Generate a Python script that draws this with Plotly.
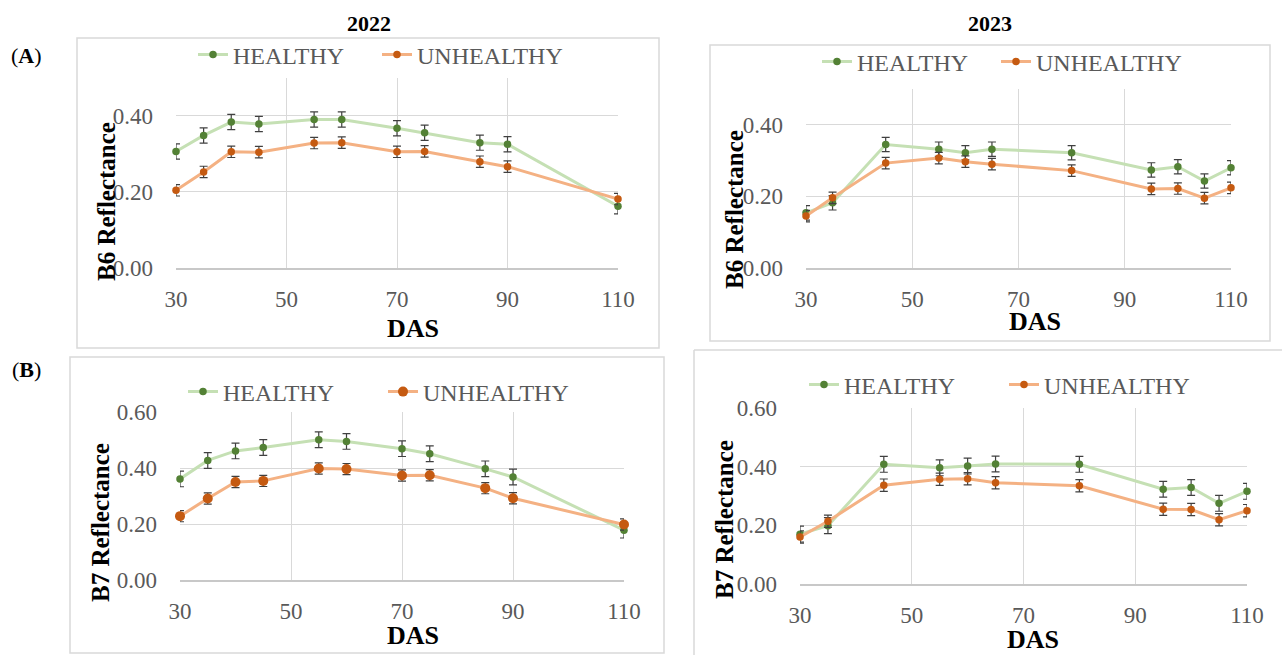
import plotly.graph_objects as go

# ---------------- data ----------------
das_2022 = [30, 35, 40, 45, 55, 60, 70, 75, 85, 90, 110]
das_2023 = [30, 35, 45, 55, 60, 65, 80, 95, 100, 105, 110]

b6_2022_healthy = [0.306, 0.348, 0.383, 0.378, 0.390, 0.390, 0.367, 0.355, 0.329, 0.325, 0.162]
b6_2022_unhealthy = [0.204, 0.252, 0.305, 0.304, 0.328, 0.329, 0.305, 0.306, 0.279, 0.266, 0.181]
b6_2022_healthy_err = [0.02, 0.02, 0.02, 0.02, 0.02, 0.02, 0.02, 0.02, 0.02, 0.02, 0.02]
b6_2022_unhealthy_err = [0.015, 0.015, 0.015, 0.015, 0.015, 0.015, 0.015, 0.015, 0.015, 0.015, 0.015]

b6_2023_healthy = [0.154, 0.182, 0.345, 0.332, 0.322, 0.332, 0.322, 0.274, 0.283, 0.243, 0.280]
b6_2023_unhealthy = [0.145, 0.196, 0.293, 0.307, 0.297, 0.290, 0.272, 0.221, 0.222, 0.195, 0.224]
b6_2023_healthy_err = [0.02, 0.02, 0.02, 0.02, 0.02, 0.02, 0.02, 0.02, 0.02, 0.02, 0.02]
b6_2023_unhealthy_err = [0.016, 0.016, 0.016, 0.016, 0.016, 0.016, 0.016, 0.016, 0.016, 0.016, 0.016]

b7_2022_healthy = [0.361, 0.427, 0.461, 0.473, 0.501, 0.495, 0.469, 0.451, 0.397, 0.368, 0.178]
b7_2022_unhealthy = [0.228, 0.291, 0.350, 0.354, 0.398, 0.396, 0.373, 0.374, 0.328, 0.292, 0.198]
b7_2022_healthy_err = [0.028, 0.028, 0.028, 0.028, 0.028, 0.028, 0.028, 0.028, 0.028, 0.028, 0.028]
b7_2022_unhealthy_err = [0.02, 0.02, 0.02, 0.02, 0.02, 0.02, 0.02, 0.02, 0.02, 0.02, 0.02]

b7_2023_healthy = [0.170, 0.199, 0.408, 0.396, 0.402, 0.409, 0.408, 0.323, 0.329, 0.275, 0.316]
b7_2023_unhealthy = [0.160, 0.214, 0.337, 0.357, 0.359, 0.345, 0.335, 0.255, 0.254, 0.219, 0.250]
b7_2023_healthy_err = [0.027, 0.027, 0.027, 0.027, 0.027, 0.027, 0.027, 0.027, 0.027, 0.027, 0.027]
b7_2023_unhealthy_err = [0.021, 0.021, 0.021, 0.021, 0.021, 0.021, 0.021, 0.021, 0.021, 0.021, 0.021]

x_ticks = [30, 50, 70, 90, 110]
series_names = ["HEALTHY", "UNHEALTHY"]
year_titles = ["2022", "2023"]
row_labels = ["A", "B"]
y_titles = ["B6 Reflectance", "B7 Reflectance"]
x_title = "DAS"

# ---------------- style ----------------
W, H = 1282, 655
FONT = "Liberation Serif"
GRID = "#D9D9D9"
TICKC = "#595959"
H_LINE, H_MARK = "#C5E0B4", "#538135"
U_LINE, U_MARK = "#F4B183", "#C55A11"
ERRC = "#404040"


def fx(p):
    return p / W


def fy(p):
    return 1 - p / H


fig = go.Figure()

# legend text start positions (px) for HEALTHY / UNHEALTHY in each panel, legend centre y
panels = [
    dict(ax="", xd=(176, 618), yd=(77.5, 268), ymax=0.5, x=das_2022,
         h=b6_2022_healthy, u=b6_2022_unhealthy, he=b6_2022_healthy_err, ue=b6_2022_unhealthy_err,
         lt=(236, 420), ly=55, umark=7.5, ytitle=y_titles[0], yt=(106, 202), xt=(413, 328)),
    dict(ax="2", xd=(806, 1231), yd=(89, 268), ymax=0.5, x=das_2023,
         h=b6_2023_healthy, u=b6_2023_unhealthy, he=b6_2023_healthy_err, ue=b6_2023_unhealthy_err,
         lt=(860, 1039), ly=62, umark=7.5, ytitle=y_titles[0], yt=(734, 210), xt=(1035, 321)),
    dict(ax="3", xd=(180, 624), yd=(412, 580), ymax=0.6, x=das_2022,
         h=b7_2022_healthy, u=b7_2022_unhealthy, he=b7_2022_healthy_err, ue=b7_2022_unhealthy_err,
         lt=(226, 426), ly=392, umark=10, ytitle=y_titles[1], yt=(100, 523), xt=(413, 635)),
    dict(ax="4", xd=(800, 1247), yd=(408, 584), ymax=0.6, x=das_2023,
         h=b7_2023_healthy, u=b7_2023_unhealthy, he=b7_2023_healthy_err, ue=b7_2023_unhealthy_err,
         lt=(847, 1047), ly=385, umark=7.5, ytitle=y_titles[1], yt=(724, 520), xt=(1033, 639)),
]

annotations = []
layout_axes = {}
leg_i = 0
for p in panels:
    xa = "x" + p["ax"]
    ya = "y" + p["ax"]
    for k, (name, vals, errs, lc, mc, ms) in enumerate([
        (series_names[0], p["h"], p["he"], H_LINE, H_MARK, 7.5),
        (series_names[1], p["u"], p["ue"], U_LINE, U_MARK, p["umark"]),
    ]):
        leg_i += 1
        leg = "legend" if leg_i == 1 else "legend%d" % leg_i
        fig.add_trace(go.Scatter(
            x=p["x"], y=vals, name=name, mode="lines+markers", showlegend=True,
            xaxis=xa, yaxis=ya, legend=leg, cliponaxis=False,
            line=dict(color=lc, width=3),
            marker=dict(color=mc, size=ms),
            error_y=dict(type="data", array=errs, visible=True, color=ERRC, thickness=1.2, width=4),
        ))
        layout_axes[leg] = dict(
            orientation="h", x=fx(p["lt"][k] - 43), y=fy(p["ly"]), xanchor="left", yanchor="middle",
            bgcolor="rgba(0,0,0,0)", borderwidth=0,
            font=dict(family=FONT, size=24, color=TICKC), itemwidth=30,
        )
    layout_axes["xaxis" + p["ax"]] = dict(
        domain=[fx(p["xd"][0]), fx(p["xd"][1])], anchor=ya, range=[30, 110],
        tickvals=x_ticks, showgrid=True, gridcolor=GRID, gridwidth=1.3,
        showline=True, linecolor="#C8C8C8", linewidth=1.5, zeroline=False,
        ticks="", ticklabelstandoff=10, automargin=False,
        tickfont=dict(family=FONT, size=23, color=TICKC),
    )
    layout_axes["yaxis" + p["ax"]] = dict(
        domain=[fy(p["yd"][1]), fy(p["yd"][0])], anchor=xa, range=[0, p["ymax"]],
        dtick=0.2, tick0=0, tickformat=".2f", showgrid=True, gridcolor=GRID, gridwidth=1.3,
        showline=False, zeroline=False, ticks="", ticklabelstandoff=22, automargin=False,
        tickfont=dict(family=FONT, size=23, color=TICKC),
    )
    annotations.append(dict(
        text=p["ytitle"], x=fx(p["yt"][0]), y=fy(p["yt"][1]), xref="paper", yref="paper",
        textangle=-90, showarrow=False, xanchor="center", yanchor="middle",
        font=dict(family=FONT, size=25, color="black", weight="bold"),
    ))
    annotations.append(dict(
        text=x_title, x=fx(p["xt"][0]), y=fy(p["xt"][1]), xref="paper", yref="paper",
        showarrow=False, xanchor="center", yanchor="middle",
        font=dict(family=FONT, size=26, color="black", weight="bold"),
    ))

for txt, cx in zip(year_titles, [369, 990]):
    annotations.append(dict(text=txt, x=fx(cx), y=fy(24), xref="paper", yref="paper",
                            showarrow=False, xanchor="center", yanchor="middle",
                            font=dict(family=FONT, size=22, color="black", weight="bold")))
for txt, cy in zip(row_labels, [55, 369]):
    annotations.append(dict(text="(<b>" + txt + "</b>)", x=fx(26), y=fy(cy), xref="paper", yref="paper",
                            showarrow=False, xanchor="center", yanchor="middle",
                            font=dict(family=FONT, size=22, color="black")))

# panel frames (the last one runs off the page: only its top and left edges are drawn)
boxes = [(77, 38, 659, 348), (710, 45, 1270, 341), (70, 357, 664, 653)]
shapes = [dict(type="rect", xref="paper", yref="paper", x0=fx(b[0]), x1=fx(b[2]), y0=fy(b[3]), y1=fy(b[1]),
               line=dict(color=GRID, width=1.5), fillcolor="rgba(0,0,0,0)", layer="below") for b in boxes]
shapes.append(dict(type="line", xref="paper", yref="paper", x0=fx(694), x1=1, y0=fy(350), y1=fy(350),
                   line=dict(color=GRID, width=1.5), layer="below"))
shapes.append(dict(type="line", xref="paper", yref="paper", x0=fx(694), x1=fx(694), y0=0, y1=fy(350),
                   line=dict(color=GRID, width=1.5), layer="below"))

fig.update_layout(
    width=W, height=H, margin=dict(l=0, r=0, t=0, b=0, autoexpand=False),
    showlegend=True,
    paper_bgcolor="white", plot_bgcolor="white",
    annotations=annotations, shapes=shapes, **layout_axes,
)

fig.write_html("out.html", config={"displayModeBar": False})
